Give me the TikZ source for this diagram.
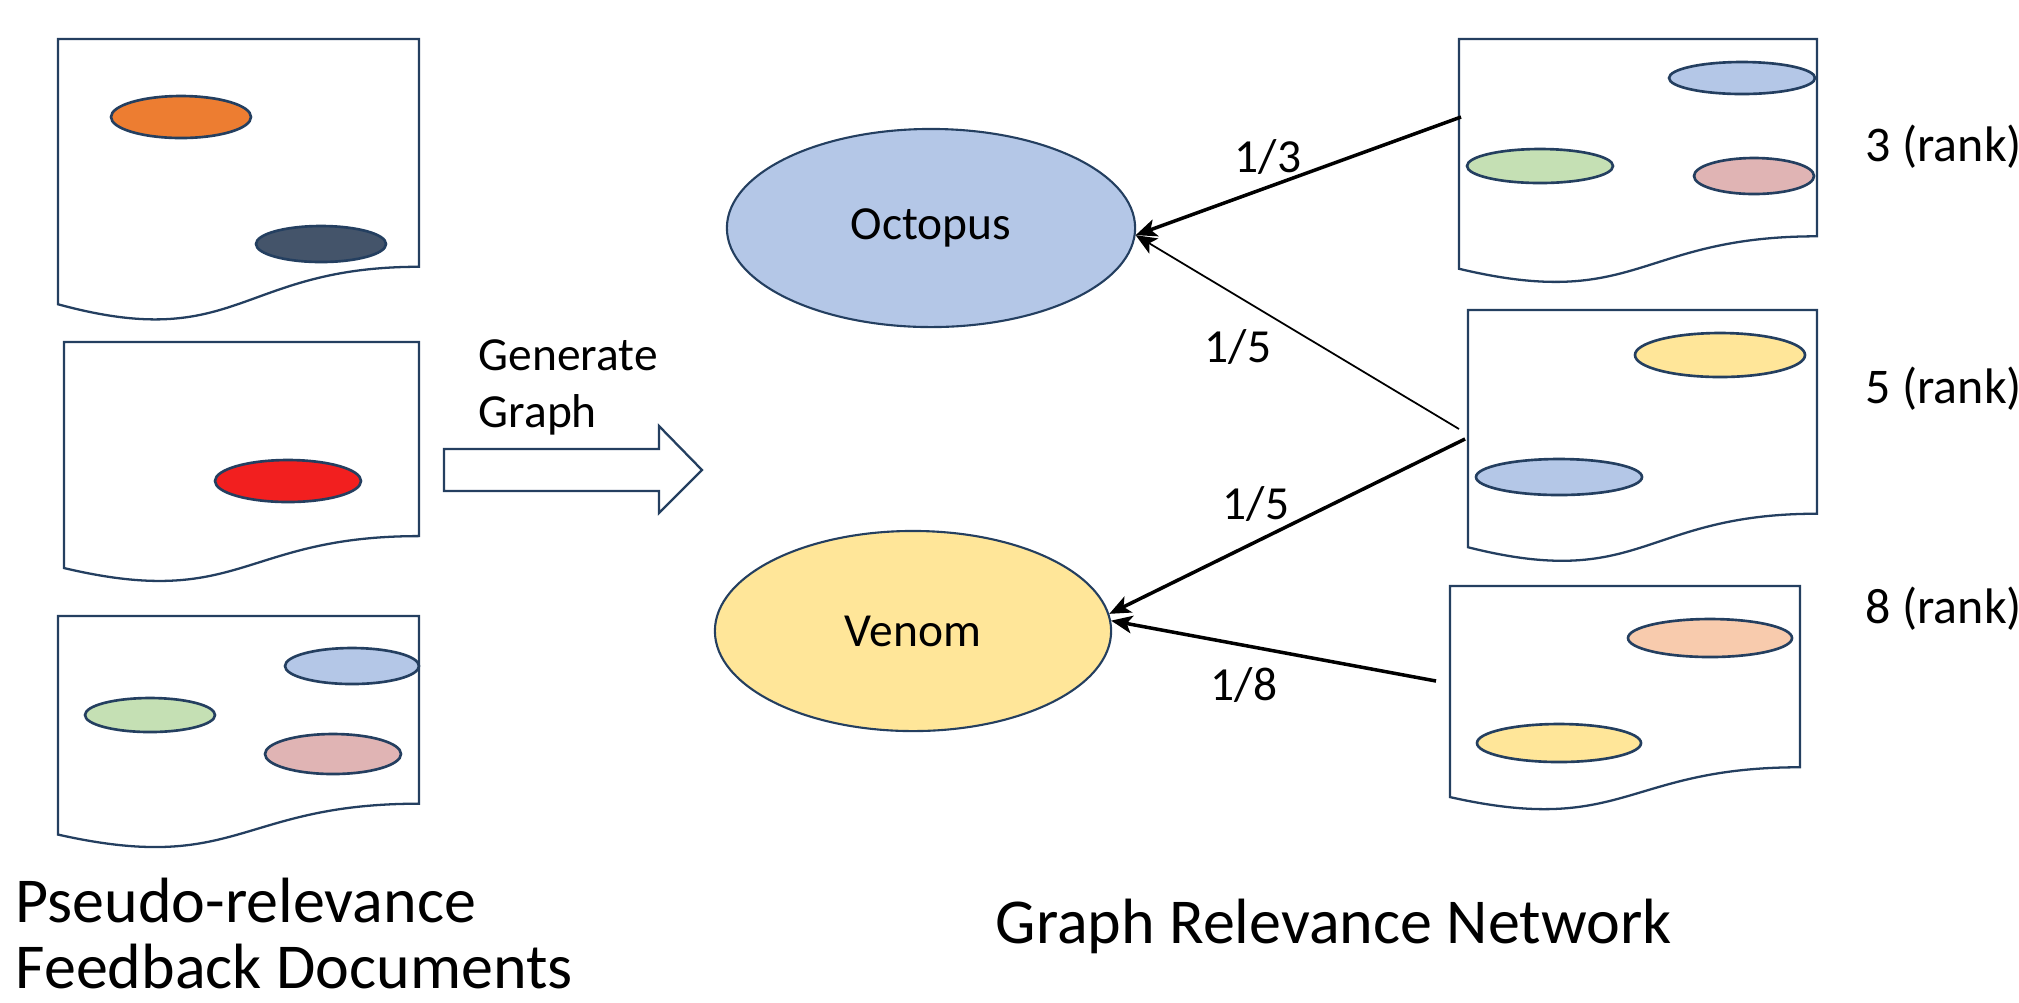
\documentclass[tikz,border=0pt]{standalone}
\usepackage{fontspec}
\setmainfont{Carlito}
\usepackage{tikz}
\usetikzlibrary{arrows.meta}
\usetikzlibrary{shapes.geometric}
\usetikzlibrary{positioning}

\definecolor{lineblue}{HTML}{243F60}
\definecolor{orangefill}{HTML}{ED7D31}
\definecolor{slatefill}{HTML}{44546A}
\definecolor{redfill}{HTML}{F21F1F}
\definecolor{bluefill}{HTML}{B4C7E7}
\definecolor{greenfill}{HTML}{C5E0B4}
\definecolor{pinkfill}{HTML}{E0B4B4}
\definecolor{yellowfill}{HTML}{FFE699}
\definecolor{salmonfill}{HTML}{F8CBAD}

\begin{document}
\begin{tikzpicture}[x=0.01cm, y=-0.01cm,
		paper/.style={draw=lineblue, line width=0.65pt, fill=white},
		blob/.style={draw=lineblue, line width=0.75pt},
		topic/.style={ellipse, draw=lineblue, line width=0.6pt, inner sep=0pt, font=\fontsize{13.5}{16.2}\selectfont},
		label/.style={font=\fontsize{13.5}{16.2}\selectfont, inner sep=0pt},
		title/.style={font=\fontsize{18.2}{18.5}\selectfont, inner sep=0pt, align=left},
		edge/.style={-{Stealth[length=6pt,width=5pt,inset=1.5pt]}, line width=1pt},
		thinedge/.style={edge, line width=0.5pt}]
		\useasboundingbox (0,0) rectangle (2019,1002);

		% documents: x/y/width/height
		\foreach \x/\y/\w/\h in {58/39/361/284, 64/342/355/242, 58/616/361/234,
			1459/39/358/246, 1468/310/349/254, 1450/586/350/226}
		\draw[paper] (\x,\y) -- (\x+\w,\y) -- (\x+\w,\y+0.802*\h)
			.. controls (\x+0.5*\w,\y+0.802*\h) and (\x+0.5*\w,\y+1.1075*\h) .. (\x,\y+0.934*\h) -- cycle;

		% blobs in the documents
		\draw[blob, fill=orangefill] (181,117) ellipse [x radius=70, y radius=21];
		\draw[blob, fill=slatefill] (321,244) ellipse [x radius=65, y radius=18];
		\draw[blob, fill=redfill] (288,481) ellipse [x radius=73, y radius=21];
		\draw[blob, fill=bluefill] (352,666) ellipse [x radius=67, y radius=18];
		\draw[blob, fill=greenfill] (150,715) ellipse [x radius=65, y radius=17];
		\draw[blob, fill=pinkfill] (333,754) ellipse [x radius=68, y radius=20];
		\draw[blob, fill=bluefill] (1742,78) ellipse [x radius=73, y radius=16];
		\draw[blob, fill=greenfill] (1540,166) ellipse [x radius=73, y radius=17];
		\draw[blob, fill=pinkfill] (1754,176) ellipse [x radius=60, y radius=18];
		\draw[blob, fill=yellowfill] (1720,355) ellipse [x radius=85, y radius=22];
		\draw[blob, fill=bluefill] (1559,477) ellipse [x radius=83, y radius=18];
		\draw[blob, fill=salmonfill] (1710,638) ellipse [x radius=82, y radius=19];
		\draw[blob, fill=yellowfill] (1559,743) ellipse [x radius=82, y radius=19];

		% generate graph arrow
		\draw[draw=lineblue, line width=0.65pt, fill=white] (444,449) -- (659,449) -- (659,426)
			-- (702,470) -- (659,513) -- (659,491) -- (444,491) -- cycle;
		\path (478,427) node[title, font=\fontsize{13.5}{16.2}\selectfont, anchor=base west] (gen) {Generate\\Graph};

		\path
		(931,228) node[topic, fill=bluefill, minimum width=4.08cm, minimum height=1.98cm] (octopus) {Octopus}
		(913,631) node[topic, fill=yellowfill, minimum width=3.96cm, minimum height=2cm] (venom) {Venom};

		\coordinate (from3) at (1461,117);
		\coordinate (from5a) at (1459,429);
		\coordinate (from5b) at (1465,439);
		\coordinate (from8) at (1436,681);
		\draw[edge] (from3) -- (octopus.-2);
		\draw[thinedge] (from5a) -- (octopus.-2);
		\draw[edge] (from5b) -- (venom.5);
		\draw[edge] (from8) -- (venom.3);

		\path
		(1268,172) node[label, anchor=base] (w3) {1/3}
		(1238,362) node[label, anchor=base] (w5a) {1/5}
		(1256,519) node[label, anchor=base] (w5b) {1/5}
		(1244,700) node[label, anchor=base] (w8) {1/8};

		\path
		(1865,161) node[label, font=\fontsize{14.2}{16.2}\selectfont, anchor=base west] (rank3) {3 (rank)}
		(1865,403) node[label, font=\fontsize{14.2}{16.2}\selectfont, anchor=base west] (rank5) {5 (rank)}
		(1865,623) node[label, font=\fontsize{14.2}{16.2}\selectfont, anchor=base west] (rank8) {8 (rank)};

		\path
		(15,988) node[title, anchor=base west] (prf) {Pseudo-relevance\\Feedback Documents}
		(995,943) node[title, anchor=base west] (grn) {Graph Relevance Network};
	\end{tikzpicture}
\end{document}
